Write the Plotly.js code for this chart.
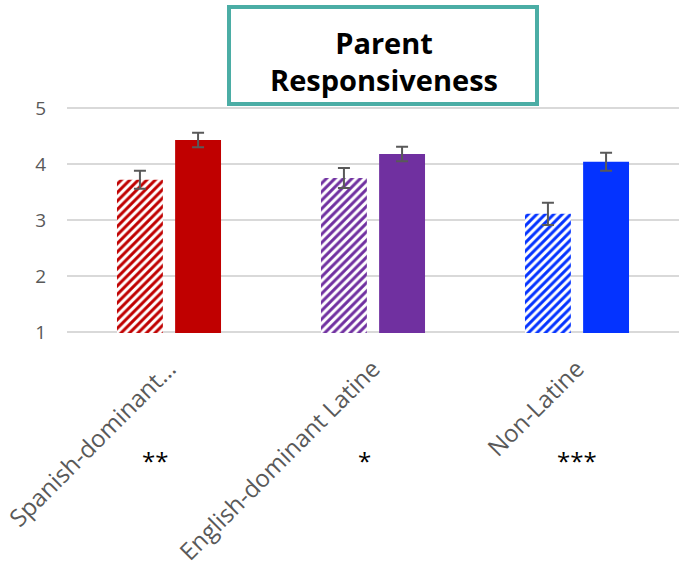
<!DOCTYPE html>
<html>
<head>
<meta charset="utf-8">
<script src="https://cdn.plot.ly/plotly-3.0.1.min.js"></script>
<style>
  html, body { margin: 0; padding: 0; background: #ffffff; }
  #chart { width: 679px; height: 578px; }
</style>
</head>
<body>
<div id="chart"></div>
<script>
// Groups shown along the x axis
const categories = ["Spanish-dominant…", "English-dominant Latine", "Non-Latine"];
// Mean parent responsiveness, first (hatched) and second (solid) bar of each group
const hatchedValues = [3.72, 3.75, 3.11];
const hatchedErrors = [0.16, 0.18, 0.20];
const solidValues = [4.43, 4.18, 4.04];
const solidErrors = [0.13, 0.13, 0.16];
// Significance markers under each group
const significance = ["**", "*", "***"];
const groupColors = ["#C00000", "#7030A0", "#0433FF"];

const errStyle = { type: "data", visible: true, color: "#595959", thickness: 2, width: 6 };

const traces = [
  {
    type: "bar",
    x: categories,
    y: hatchedValues,
    width: 0.225,
    offset: -0.255,
    marker: {
      color: "#ffffff",
      line: { width: 0 },
      pattern: { shape: "/", fgcolor: groupColors, bgcolor: "#ffffff", size: 6, solidity: 0.5, fillmode: "replace" }
    },
    error_y: Object.assign({ array: hatchedErrors }, errStyle),
    showlegend: false,
    hoverinfo: "y"
  },
  {
    type: "bar",
    x: categories,
    y: solidValues,
    width: 0.225,
    offset: 0.03,
    marker: { color: groupColors, line: { width: 0 } },
    error_y: Object.assign({ array: solidErrors }, errStyle),
    showlegend: false,
    hoverinfo: "y"
  }
];

const annotations = significance.map((s, i) => ({
  x: i + [-0.07, -0.04, 0][i],
  xref: "x",
  y: -0.562,
  yref: "paper",
  text: s,
  showarrow: false,
  font: { family: "Open Sans, sans-serif", size: 24, color: "#000000" },
  xanchor: "center",
  yanchor: "middle"
}));

const layout = {
  width: 679,
  height: 578,
  margin: { l: 67, r: 0, t: 107, b: 245, pad: 0 },
  paper_bgcolor: "#ffffff",
  plot_bgcolor: "#ffffff",
  barmode: "overlay",
  title: {
    text: "<b>Parent<br>Responsiveness</b>",
    xref: "paper",
    yref: "paper",
    x: 0.518,
    y: 1.226,
    xanchor: "center",
    yanchor: "middle",
    font: { family: "Open Sans, sans-serif", size: 29, color: "#000000" }
  },
  xaxis: {
    type: "category",
    range: [-0.5, 2.5],
    showgrid: false,
    showline: false,
    zeroline: false,
    ticks: "",
    tickangle: -45,
    ticklabelstandoff: 16,
    tickfont: { family: "Open Sans, sans-serif", size: 24, color: "#595959" },
    fixedrange: true
  },
  yaxis: {
    range: [0.98, 5.02],
    tickvals: [1, 2, 3, 4, 5],
    showgrid: true,
    gridcolor: "#d9d9d9",
    gridwidth: 1.6,
    zeroline: false,
    showline: false,
    ticks: "",
    ticklabelstandoff: 20,
    tickfont: { family: "Open Sans, sans-serif", size: 19, color: "#595959" },
    fixedrange: true
  },
  shapes: [
    {
      type: "rect",
      xref: "paper",
      yref: "paper",
      x0: (229 - 67) / 612,
      x1: (537 - 67) / 612,
      y0: (333 - 104) / 226,
      y1: (333 - 7) / 226,
      line: { color: "#4BADA5", width: 4 },
      fillcolor: "rgba(0,0,0,0)",
      layer: "above"
    }
  ],
  annotations: annotations,
  showlegend: false
};

Plotly.newPlot("chart", traces, layout, { displayModeBar: false, staticPlot: true });
</script>
</body>
</html>
